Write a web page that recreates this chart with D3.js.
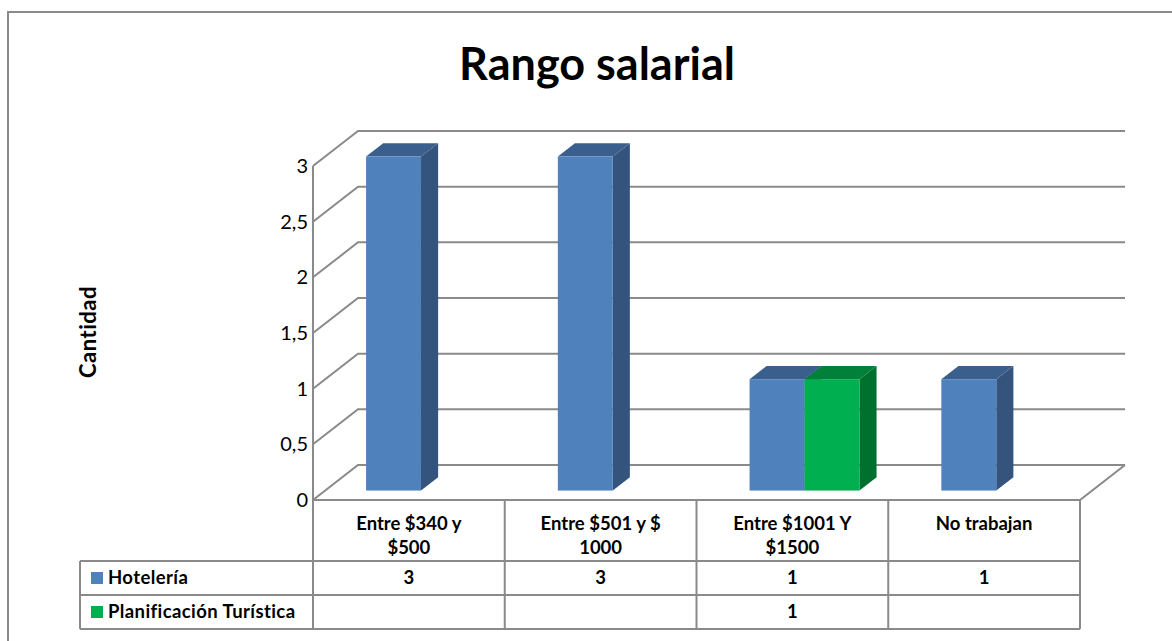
<!DOCTYPE html>
<html><head><meta charset="utf-8">
<script src="https://cdn.jsdelivr.net/npm/d3@7"></script>
<style>body{margin:0;background:#fff}svg{display:block}text{font-family:Lato,"Open Sans",sans-serif}</style>
</head><body>
<script>
const title = "Rango salarial";
const yTitle = "Cantidad";
const categories = ["Entre $340 y $500", "Entre $501 y $ 1000", "Entre $1001 Y $1500", "No trabajan"];
const categoryLines = [["Entre $340 y", "$500"], ["Entre $501 y $", "1000"], ["Entre $1001 Y", "$1500"], ["No trabajan"]];
const seriesNames = ["Hotelería", "Planificación Turística"];
const hoteleria = [3, 3, 1, 1];
const planificacion = [null, null, 1, null];
const seriesValues = [hoteleria, planificacion];
const yTicks = [0, 0.5, 1, 1.5, 2, 2.5, 3];
const colors = [{front:"#4F81BD", side:"#34547E", top:"#3B5F8C"}, {front:"#00B050", side:"#00702F", top:"#008038"}];

const W = 1172, H = 641;
const svg = d3.select("body").append("svg").attr("width", W).attr("height", H);
const grid = "#8A8A8A";

// outer frame
svg.append("rect").attr("x", 8).attr("y", 12).attr("width", 1200).attr("height", 700)
  .attr("fill", "none").attr("stroke", grid).attr("stroke-width", 2);

// 3D geometry
const DX = 45, DY = -35;
const x0 = 313, x1 = 1080;
const y = d3.scaleLinear().domain([0, 3]).range([500, 166]);
const xCat = d3.scaleBand().domain(categories).range([x0, x1]);
const xSer = d3.scaleBand().domain(seriesNames).range([0, xCat.bandwidth()]).paddingOuter(0.745);
const fBar = 0.27, fDepth = 0.38;
const loc = d3.formatLocale({decimal: ",", thousands: ".", grouping: [3], currency: ["$", ""]});
const fmt = loc.format("~g");

// title
svg.append("text").attr("x", 597).attr("y", 80).attr("text-anchor", "middle")
  .attr("font-size", 45).attr("font-weight", "bold").text(title);
// y title
svg.append("text").attr("transform", "translate(96,332) rotate(-90)").attr("text-anchor", "middle")
  .attr("font-size", 22).attr("font-weight", "bold").attr("letter-spacing", 0.5).text(yTitle);

// gridlines
const g = svg.append("g").attr("stroke", grid).attr("stroke-width", 2).attr("fill", "none");
yTicks.forEach(t => {
  const yy = y(t);
  g.append("path").attr("d", `M${x0},${yy}L${x0 + DX},${yy + DY}L${x1 + DX},${yy + DY}`);
});
g.append("line").attr("x1", x0).attr("x2", x0).attr("y1", y(3)).attr("y2", y(0));
g.append("path").attr("d", `M${x0},${y(0)}L${x1},${y(0)}L${x1 + DX},${y(0) + DY}`);

// tick labels
svg.append("g").selectAll("text").data(yTicks).join("text")
  .attr("x", 308).attr("y", d => y(d)).attr("dy", "0.35em").attr("text-anchor", "end")
  .attr("font-size", 20).text(d => fmt(d));

// bars
const bars = svg.append("g");
categories.forEach((c, ci) => {
  seriesNames.forEach((s, si) => {
    const v = seriesValues[si][ci];
    if (v == null) return;
    const col = colors[si];
    const xl = xCat(c) + xSer(s) + fBar * DX;
    const xr = xl + xSer.bandwidth();
    const yb = y(0) + fBar * DY;
    const yt = y(v) + fBar * DY;
    const dx = fDepth * DX, dy = fDepth * DY;
    bars.append("path").attr("fill", col.side)
      .attr("d", `M${xr},${yt}L${xr + dx},${yt + dy}L${xr + dx},${yb + dy}L${xr},${yb}Z`);
    bars.append("path").attr("fill", col.top)
      .attr("d", `M${xl},${yt}L${xl + dx},${yt + dy}L${xr + dx},${yt + dy}L${xr},${yt}Z`);
    bars.append("rect").attr("x", xl).attr("y", yt).attr("width", xr - xl).attr("height", yb - yt)
      .attr("fill", col.front);
  });
});

// data table
const tb = svg.append("g");
const rowY = [500, 561, 595, 629];
const tl = tb.append("g").attr("stroke", grid).attr("stroke-width", 2);
[rowY[1], rowY[2], rowY[3]].forEach(yy => tl.append("line").attr("x1", 80).attr("x2", x1).attr("y1", yy).attr("y2", yy));
tl.append("line").attr("x1", 80).attr("x2", 80).attr("y1", rowY[1]).attr("y2", rowY[3]);
categories.forEach(c => tl.append("line").attr("x1", xCat(c)).attr("x2", xCat(c)).attr("y1", rowY[0]).attr("y2", rowY[3]));
tl.append("line").attr("x1", x1).attr("x2", x1).attr("y1", rowY[0]).attr("y2", rowY[3]);

const fs = 18.5;
categories.forEach((c, ci) => {
  const cx = xCat(c) + xCat.bandwidth() / 2;
  categoryLines[ci].forEach((ln, li) => {
    tb.append("text").attr("x", cx).attr("y", 530 + li * 24).attr("text-anchor", "middle")
      .attr("font-size", fs).attr("font-weight", "bold").text(ln);
  });
  seriesValues.forEach((arr, si) => {
    if (arr[ci] == null) return;
    tb.append("text").attr("x", cx).attr("y", (rowY[si + 1] + rowY[si + 2]) / 2).attr("dy", "0.35em")
      .attr("text-anchor", "middle").attr("font-size", fs).attr("font-weight", "bold").text(fmt(arr[ci]));
  });
});
seriesNames.forEach((s, si) => {
  const cy = (rowY[si + 1] + rowY[si + 2]) / 2;
  tb.append("rect").attr("x", 91).attr("y", cy - 6).attr("width", 12).attr("height", 12).attr("fill", colors[si].front);
  tb.append("text").attr("x", 108).attr("y", cy).attr("dy", "0.35em").attr("font-size", fs)
    .attr("font-weight", "bold").attr("letter-spacing", 0.4).text(s);
});
</script>
</body></html>
